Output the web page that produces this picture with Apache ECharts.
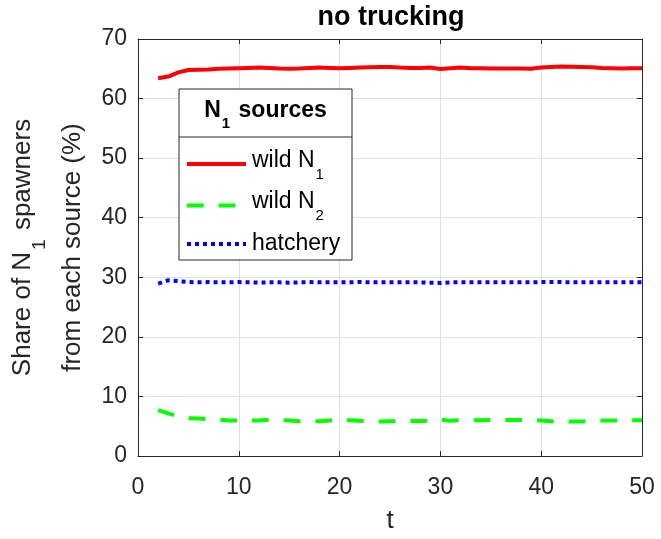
<!DOCTYPE html>
<html>
<head>
<meta charset="utf-8">
<script src="https://cdn.jsdelivr.net/npm/echarts@6/dist/echarts.min.js"></script>
<style>
  html, body { margin: 0; padding: 0; background: #fff; }
  #chart { width: 661px; height: 539px; }
</style>
</head>
<body>
<div id="chart"></div>
<script>
// Time steps
const tSteps = [2,3,4,5,6,7,8,9,10,11,12,13,14,15,16,17,18,19,20,21,22,23,24,25,26,
  27,28,29,30,31,32,33,34,35,36,37,38,39,40,41,42,43,44,45,46,47,48,49,50];

// Share of N1 spawners (%) coming from each source
const wildN1 = [63.4,63.7,64.4,64.8,64.85,64.9,65.0,65.05,65.1,65.15,65.2,65.15,65.05,65.0,
  65.05,65.15,65.2,65.15,65.1,65.15,65.2,65.25,65.3,65.3,65.2,65.15,65.15,65.2,64.95,65.1,
  65.2,65.1,65.1,65.05,65.05,65.05,65.05,65.0,65.2,65.3,65.4,65.35,65.3,65.25,65.15,65.1,
  65.05,65.1,65.1];
const wildN2 = [7.7,7.15,6.65,6.35,6.3,6.2,6.1,5.95,5.95,5.95,5.95,6.1,6.05,5.95,5.85,5.83,
  5.83,5.95,6.0,6.0,5.9,5.8,5.78,5.83,5.85,5.86,5.86,5.95,6.1,5.9,6.0,6.0,6.0,6.03,6.06,6.06,
  6.03,6.06,5.95,5.83,5.8,5.78,5.8,5.9,5.94,5.94,6.0,6.0,6.0];
const hatchery = [28.95,29.5,29.35,29.2,29.15,29.2,29.15,29.15,29.2,29.15,29.1,29.15,29.15,
  29.1,29.15,29.2,29.15,29.15,29.15,29.15,29.2,29.15,29.15,29.15,29.15,29.15,29.15,29.1,
  29.05,29.15,29.15,29.15,29.15,29.15,29.15,29.15,29.15,29.15,29.2,29.2,29.2,29.15,29.15,
  29.15,29.15,29.15,29.15,29.15,29.15];

// Axis ticks
const xTicks = [0, 10, 20, 30, 40, 50];
const yTicks = [0, 10, 20, 30, 40, 50, 60, 70];

const FONT = '"Liberation Sans", Arial, Helvetica, sans-serif';
const INK = '#262626';
const GRID = '#dfdfdf';

const pairs = (vals) => tSteps.map((t, i) => [t, vals[i]]);

const xStep = xTicks[1] - xTicks[0];
const yStep = yTicks[1] - yTicks[0];

function baseAxis(min, max, step) {
  return {
    type: 'value', min, max, interval: step,
    axisLine: { show: true, onZero: false, lineStyle: { color: INK, width: 1 } },
    axisTick: { show: true, inside: true, length: 5, lineStyle: { color: INK, width: 1 } },
  };
}

const chart = echarts.init(document.getElementById('chart'), null, { renderer: 'canvas' });

// Legend geometry
const L = { x: 179, y: 89, w: 173, h: 171, divider: 137 };
const sampleX0 = 187, sampleX1 = 246, textX = 252;
const legendRows = [
  { y: 164, ty: 160.5, color: '#ff0000', dash: null, text: '{m|wild N}{s|1}' },
  { y: 205.5, ty: 202, color: '#00ff00', dash: [16.7, 15], text: '{m|wild N}{s|2}' },
  { y: 244, ty: 244, color: '#0000ff', dash: [4, 4], text: '{m|hatchery}' }
];
const legendRich = {
  m: { fontSize: 23, fontFamily: FONT, color: INK },
  s: { fontSize: 15, fontFamily: FONT, color: INK, padding: [28, 0, 0, 1] }
};

const legendGraphics = [
  { type: 'rect', z: 100, shape: { x: L.x, y: L.y, width: L.w, height: L.h },
    style: { fill: '#fff', stroke: INK, lineWidth: 1 } },
  { type: 'line', z: 101, shape: { x1: L.x, y1: L.divider, x2: L.x + L.w, y2: L.divider },
    style: { stroke: INK, lineWidth: 1 } },
  { type: 'text', z: 101, x: L.x + L.w / 2, y: 111,
    style: { text: '{b|N}{bs|1}{b| sources}', align: 'center', verticalAlign: 'middle',
      rich: {
        b: { fontSize: 23, fontWeight: 'bold', fontFamily: FONT, color: '#000' },
        bs: { fontSize: 15, fontWeight: 'bold', fontFamily: FONT, color: '#000', padding: [25, 2, 0, 1] }
      } } }
];
legendRows.forEach(r => {
  legendGraphics.push({ type: 'line', z: 101,
    shape: { x1: sampleX0, y1: r.y, x2: sampleX1, y2: r.y },
    style: { stroke: r.color, lineWidth: 4, lineDash: r.dash } });
  legendGraphics.push({ type: 'text', z: 101, x: textX, y: r.ty,
    style: { text: r.text, align: 'left', verticalAlign: 'middle', rich: legendRich } });
});

const option = {
  animation: false,
  backgroundColor: '#fff',
  grid: { left: 138, right: 19, top: 39, bottom: 80, containLabel: false },
  xAxis: [
    Object.assign(baseAxis(xTicks[0], xTicks[xTicks.length - 1], xStep), {
      position: 'bottom',
      axisLabel: { show: true, margin: 20, fontSize: 23, color: INK, fontFamily: FONT },
      splitLine: { show: true, lineStyle: { color: GRID, width: 1 } },
      name: 't', nameLocation: 'middle', nameGap: 52,
      nameTextStyle: { fontSize: 26, color: INK, fontFamily: FONT }
    }),
    Object.assign(baseAxis(xTicks[0], xTicks[xTicks.length - 1], xStep), {
      position: 'top', axisLabel: { show: false }, splitLine: { show: false }
    })
  ],
  yAxis: [
    Object.assign(baseAxis(yTicks[0], yTicks[yTicks.length - 1], yStep), {
      position: 'left',
      axisLabel: { show: true, margin: 11, fontSize: 23, color: INK, fontFamily: FONT },
      splitLine: { show: true, lineStyle: { color: GRID, width: 1 } },
      name: '{m|Share of N}{s|1}{m| spawners}\n{m2|from each source (%)}',
      nameLocation: 'middle', nameGap: 41,
      nameTextStyle: {
        color: INK, fontFamily: FONT, fontSize: 26,
        rich: {
          m: { fontSize: 26, fontFamily: FONT, color: INK },
          s: { fontSize: 19, fontFamily: FONT, color: INK, padding: [34, 2, 0, 2] },
          m2: { fontSize: 26, fontFamily: FONT, color: INK, lineHeight: 48 }
        }
      }
    }),
    Object.assign(baseAxis(yTicks[0], yTicks[yTicks.length - 1], yStep), {
      position: 'right', axisLabel: { show: false }, splitLine: { show: false }
    })
  ],
  series: [
    { name: 'wild N1', type: 'line', xAxisIndex: 0, yAxisIndex: 0, data: pairs(wildN1),
      symbol: 'none', z: 5, lineStyle: { color: '#ff0000', width: 4, join: 'round' } },
    { name: 'wild N2', type: 'line', xAxisIndex: 0, yAxisIndex: 0, data: pairs(wildN2),
      symbol: 'none', z: 5, lineStyle: { color: '#00ff00', width: 4, type: [16.7, 15] } },
    { name: 'hatchery', type: 'line', xAxisIndex: 0, yAxisIndex: 0, data: pairs(hatchery),
      symbol: 'none', z: 5, lineStyle: { color: '#0000ff', width: 4, type: [4, 4] } }
  ],
  graphic: [
    { type: 'text', z: 100, x: 391, y: 18,
      style: { text: 'no trucking', align: 'center', verticalAlign: 'middle',
        fontSize: 27, fontWeight: 'bold', fontFamily: FONT, fill: '#000' } }
  ].concat(legendGraphics)
};

chart.setOption(option);
</script>
</body>
</html>
